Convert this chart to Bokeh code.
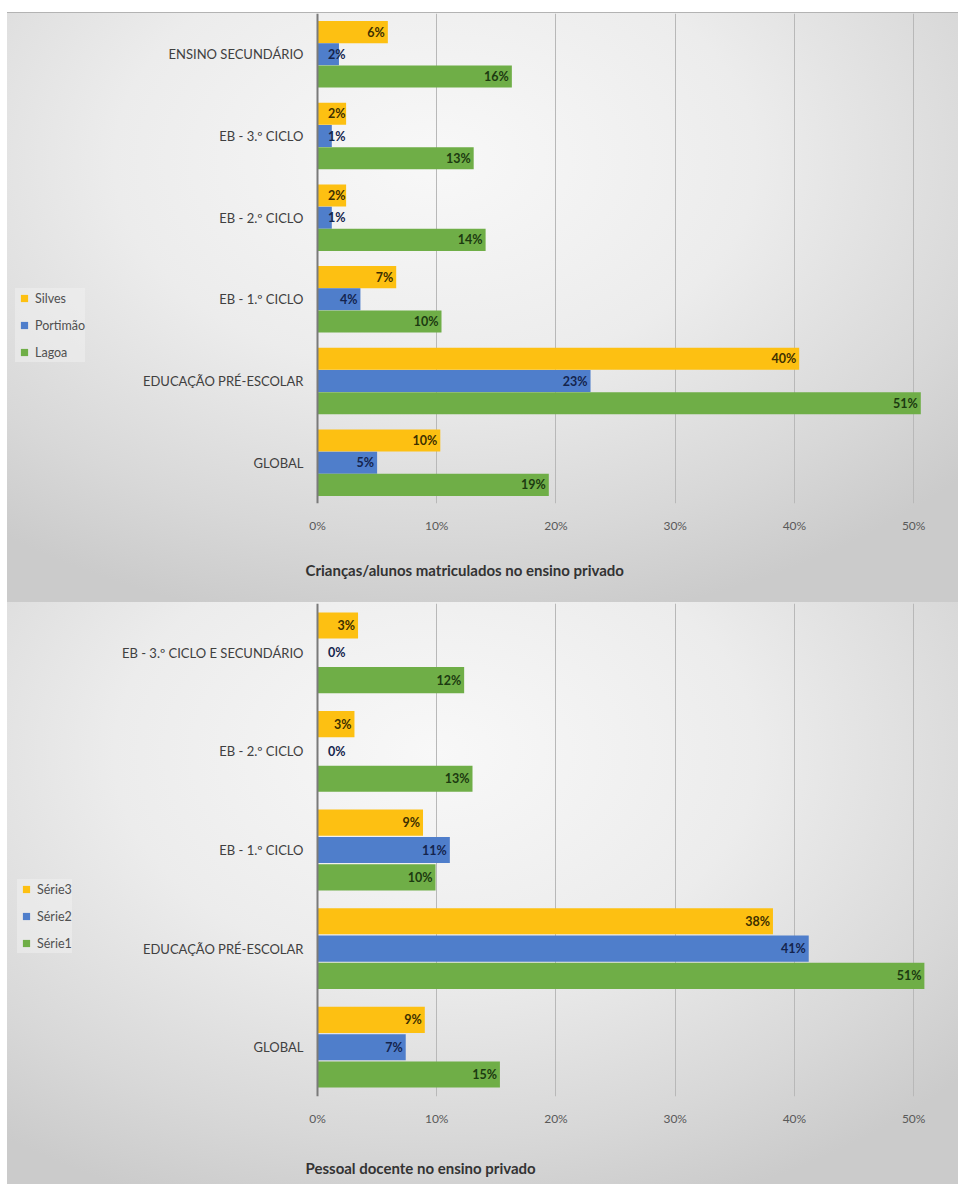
from bokeh.plotting import figure
from bokeh.layouts import column
from bokeh.models import (ColumnDataSource, FactorRange, Range1d, FixedTicker,
                          PrintfTickFormatter, Legend, LegendItem, Title)
from bokeh.transform import dodge
from bokeh.embed import file_html
from bokeh.resources import INLINE

# ---------------- data ----------------
cats_top = ["GLOBAL", "EDUCAÇÃO PRÉ-ESCOLAR", "EB - 1.º CICLO", "EB - 2.º CICLO",
            "EB - 3.º CICLO", "ENSINO SECUNDÁRIO"]
silves = [10.3, 40.4, 6.6, 2.4, 2.4, 5.9]
portimao = [5.0, 22.9, 3.6, 1.2, 1.2, 1.8]
lagoa = [19.4, 50.6, 10.4, 14.1, 13.1, 16.3]
names_top = ["Silves", "Portimão", "Lagoa"]
title_top = "Crianças/alunos matriculados no ensino privado"

cats_bot = ["GLOBAL", "EDUCAÇÃO PRÉ-ESCOLAR", "EB - 1.º CICLO", "EB - 2.º CICLO",
            "EB - 3.º CICLO E SECUNDÁRIO"]
serie3 = [9.0, 38.2, 8.85, 3.1, 3.4]
serie2 = [7.4, 41.2, 11.1, 0.0, 0.0]
serie1 = [15.3, 50.9, 9.9, 13.0, 12.3]
names_bot = ["Série3", "Série2", "Série1"]
title_bot = "Pessoal docente no ensino privado"

x_ticks = [0, 10, 20, 30, 40, 50]

# ---------------- styling ----------------
FONT = "Lato"
BAR_COLORS = ["#FDC012", "#4F7ECB", "#6FAE47"]
LABEL_COLORS = ["#3d3000", "#14244d", "#1c3a10"]
TEXT_GRAY = "#404040"
NAN = float("nan")


def make_panel(cats, series, names, title, height, frame_h, bar_h, step,
               legend_xy, tick_standoff, title_standoff, styles):
    # frame spans the whole panel; the category axis is pinned at x = 0
    p = figure(y_range=FactorRange(*cats), x_range=Range1d(-26, 52),
               width=951, height=height, frame_width=930, frame_height=frame_h,
               min_border_left=0, min_border_right=21, min_border_top=1,
               min_border_bottom=height - 1 - frame_h,
               output_backend="svg", toolbar_location=None)
    p.background_fill_alpha = 0
    p.border_fill_alpha = 0
    p.outline_line_color = None
    p.styles = styles

    offsets = [step, 0.0, -step]
    for vals, off, col, lcol in zip(series, offsets, BAR_COLORS, LABEL_COLORS):
        lab_x = [max(v, 2.6) for v in vals]
        src = ColumnDataSource(dict(cat=cats, val=vals, lx=lab_x,
                                    txt=[f"{v:.0f}%" for v in vals]))
        p.hbar(y=dodge("cat", off, range=p.y_range), left=0, right="val",
               height=bar_h, source=src, fill_color=col, line_color=None)
        p.text(x="lx", y=dodge("cat", off, range=p.y_range), text="txt", source=src,
               text_align="right", text_baseline="middle", x_offset=-3,
               text_font={"value": FONT}, text_font_style="bold",
               text_font_size="12.5px",
               text_color=lcol if any(v > 0 for v in vals) else TEXT_GRAY)

    # axes
    p.xaxis.ticker = FixedTicker(ticks=x_ticks)
    p.xaxis.formatter = PrintfTickFormatter(format="%d%%")
    p.xaxis.axis_line_color = None
    p.xaxis.major_tick_line_color = None
    p.xaxis.minor_tick_line_color = None
    p.xaxis.major_tick_out = 0
    p.xaxis.major_label_standoff = tick_standoff
    p.xaxis.major_label_text_font = FONT
    p.xaxis.major_label_text_font_size = "12px"
    p.xaxis.major_label_text_color = "#595959"

    p.yaxis.fixed_location = 0
    p.yaxis.axis_line_color = "#7a7a7a"
    p.yaxis.axis_line_width = 2
    p.yaxis.major_tick_line_color = None
    p.yaxis.major_tick_out = 0
    p.yaxis.major_label_standoff = 14
    p.yaxis.major_label_text_font = FONT
    p.yaxis.major_label_text_font_size = "13px"
    p.yaxis.major_label_text_color = TEXT_GRAY

    p.ygrid.grid_line_color = None
    p.xgrid.ticker = FixedTicker(ticks=x_ticks[1:])
    p.xgrid.grid_line_color = "#b8b8b8"
    p.xgrid.grid_line_width = 1

    # legend (marker-style squares)
    items = []
    for name, col in zip(names, BAR_COLORS):
        sr = p.scatter(x=[NAN], y=[cats[0]], marker="square", size=7,
                       fill_color=col, line_color=None)
        items.append(LegendItem(label=name, renderers=[sr], index=0))
    leg = Legend(items=items, location=legend_xy, orientation="vertical",
                 glyph_width=18, glyph_height=20, label_height=20,
                 label_standoff=2, spacing=7, padding=8, margin=0,
                 label_text_font=FONT, label_text_font_size="12.5px",
                 label_text_color="#505050", border_line_color=None,
                 background_fill_color="#f2f2f2", background_fill_alpha=0.5)
    p.add_layout(leg)

    t = Title(text=title, align="left", offset=298, standoff=title_standoff,
              text_font=FONT, text_font_size="15px", text_font_style="bold",
              text_color="#333333")
    p.add_layout(t, "below")
    return p


grad = ("radial-gradient(ellipse 75% 80% at 45% 25%, #f8f8f8 0%, #ececec 45%, "
        "#d8d8d8 80%, #cbcbcb 100%)")

p1 = make_panel(cats_top, [silves, portimao, lagoa], names_top, title_top,
                height=590, frame_h=490, bar_h=0.27, step=0.272,
                legend_xy=(8, 141), tick_standoff=14, title_standoff=47,
                styles={"background": grad, "box-shadow": "inset 0 1px 0 #b3b3b3"})
p2 = make_panel(cats_bot, [serie3, serie2, serie1], names_bot, title_bot,
                height=582, frame_h=493, bar_h=0.265, step=0.277,
                legend_xy=(10, 143), tick_standoff=14, title_standoff=57,
                styles={"background": grad})

layout = column(p1, p2, spacing=0, margin=(12, 0, 0, 7))

with open("out.html", "w") as f:
    f.write(file_html(layout, INLINE))
